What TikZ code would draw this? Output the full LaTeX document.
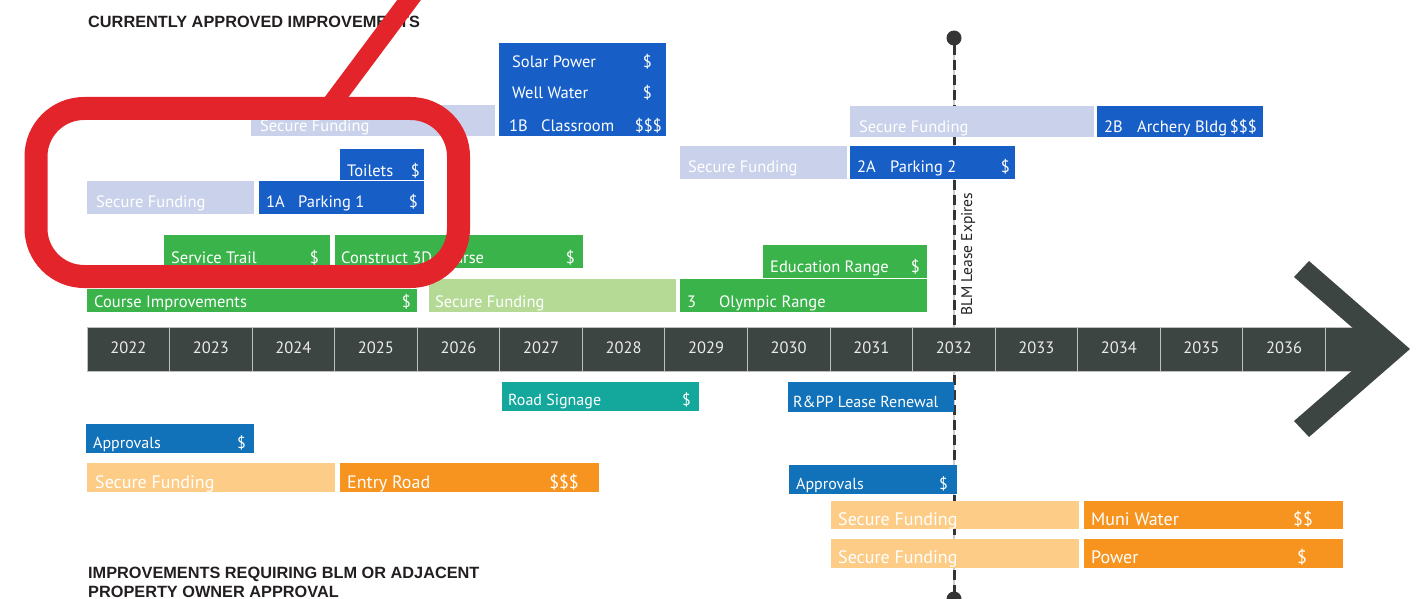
\documentclass[tikz,border=0pt]{standalone}
\usepackage{fontspec}
\setmainfont{PT Sans}
\newfontfamily\headfont{Liberation Sans}
\definecolor{tblue}{HTML}{175FC7}
\definecolor{lav}{HTML}{C9D2EA}
\definecolor{tgreen}{HTML}{3AB44A}
\definecolor{lgreen}{HTML}{B4DA96}
\definecolor{bblue}{HTML}{1172BA}
\definecolor{teal}{HTML}{14A89C}
\definecolor{lorange}{HTML}{FDCC86}
\definecolor{orng}{HTML}{F7941F}
\definecolor{bar}{HTML}{3D4542}
\definecolor{redmark}{HTML}{E3242B}
\definecolor{headtxt}{HTML}{231F20}
\definecolor{dashc}{HTML}{353535}
\tikzset{
  box/.style={anchor=north west, inner sep=0pt, outer sep=0pt, draw=none},
  lbl/.style={anchor=base west, inner sep=0pt, text=white, font=\fontsize{16.5}{18}\selectfont},
  lbr/.style={anchor=base east, inner sep=0pt, text=white, font=\fontsize{16.5}{18}\selectfont},
  lbll/.style={lbl, font=\fontsize{18}{20}\selectfont},
  lbrl/.style={lbr, font=\fontsize{18}{20}\selectfont},
  lblm/.style={lbl, font=\fontsize{16}{18}\selectfont},
  lbrm/.style={lbr, font=\fontsize{16}{18}\selectfont},
  cell/.style={anchor=north west, inner sep=0pt, outer sep=0pt, fill=bar, draw=black!25, line width=0.8pt, minimum height=44pt},
  yr/.style={anchor=base, inner sep=0pt, text=white!92!black, font=\fontsize{16.5}{18}\selectfont},
  head/.style={anchor=base west, inner sep=0pt, text=headtxt, font=\headfont\bfseries\fontsize{16.3}{19}\selectfont, align=left},
}
\newcommand\tlbox[6]{\node[box,fill=#2,minimum width={#5pt-#3pt},minimum height={#6pt-#4pt}] (#1) at (#3,#4) {};}
\begin{document}
\begin{tikzpicture}[x=1pt,y=-1pt]
\useasboundingbox (0,0) rectangle (1424,599);
\clip (0,0) rectangle (1424,599);
\fill[white] (0,0) rectangle (1424,599);

% BLM lease expiry line
\draw[black!20, line width=1.5pt] (954,38) -- (954,600);
\draw[dashc, line width=3pt, dash pattern=on 10pt off 5pt] (954,45) -- (954,600);
\node[circle, fill=dashc, inner sep=0pt, minimum size=15pt] (topdot) at (954,38) {};
\node[circle, fill=dashc, inner sep=0pt, minimum size=15pt] (botdot) at (954,599) {};
\node[rotate=90, anchor=base west, inner sep=0pt, text=headtxt, font=\fontsize{15.5}{17}\selectfont] (blm) at (972,316) {BLM Lease Expires};

% headings
\node[head] (h1) at (88,28) {CURRENTLY APPROVED IMPROVEMENTS};
\node[head] (h2) at (88,578) {IMPROVEMENTS REQUIRING BLM OR ADJACENT};
\node[head] (h3) at (88,597) {PROPERTY OWNER APPROVAL};

% timeline bar
\fill[bar] (1320,327) rectangle (1380,371);
\node[cell, minimum width=30pt] (yend) at (1325.3,327) {};
\foreach \i in {0,...,14} {
  \pgfmathsetmacro\xa{87+\i*82.55}
  \node[cell, minimum width=82.55pt] (y\i) at (\xa,327) {};
  \node[yr] (yt\i) at (\xa+41.3,353) {\the\numexpr2022+\i\relax};
}
\fill[bar] (1294,277) -- (1309,261) -- (1410,349) -- (1309,437) -- (1294,421) -- (1377,349) -- cycle;
\fill[bar] (1340,328) rectangle (1381,370);

% ---- upper boxes ----
\tlbox{sf1}{lav}{251}{105}{495}{136}
\node[lbl] (sf1t) at (260,131.5) {Secure Funding};
\tlbox{cls}{tblue}{499}{43}{666}{136}
\node[lbl] (solar) at (512,68) {Solar Power};
\node[lbr] (solard) at (652,68) {\$};
\node[lbl] (well) at (512,99) {Well Water};
\node[lbr] (welld) at (652,99) {\$};
\node[lbl] (onebn) at (509,131.5) {1B};
\node[lbl] (onebt) at (541,131.5) {Classroom};
\node[lbr] (onebd) at (662,131.5) {\$\$\$};

\tlbox{toil}{tblue}{340}{149}{424}{180}
\node[lbl] (toilt) at (347,176) {Toilets};
\node[lbr] (toild) at (420,176) {\$};
\tlbox{sf2}{lav}{87}{181}{254}{214}
\node[lbl] (sf2t) at (96,207) {Secure Funding};
\tlbox{p1}{tblue}{259}{181}{424}{214}
\node[lbl] (p1n) at (266,207) {1A};
\node[lbl] (p1t) at (298,207) {Parking 1};
\node[lbr] (p1d) at (418,207) {\$};

\tlbox{st}{tgreen}{164}{235}{330}{268}
\node[lbl] (stt) at (171,263) {Service Trail};
\node[lbr] (std) at (319,263) {\$};
\tlbox{c3d}{tgreen}{335}{235}{583}{268}
\node[lbl] (c3dt) at (341,263) {Construct 3D Course};
\node[lbr] (c3dd) at (575,263) {\$};
\tlbox{ci}{tgreen}{87}{289}{417}{312}
\node[lbl] (cit) at (94,307) {Course Improvements};
\node[lbr] (cid) at (411,307) {\$};
\tlbox{sf3}{lgreen}{429}{279}{676}{312}
\node[lbl] (sf3t) at (435,307) {Secure Funding};
\tlbox{ol}{tgreen}{680}{279}{927}{312}
\node[lbl] (oln) at (687,307) {3};
\node[lbl] (olt) at (719,307) {Olympic Range};
\tlbox{ed}{tgreen}{763}{245}{927}{278}
\node[lbl] (edt) at (770,272) {Education Range};
\node[lbr] (edd) at (920,272) {\$};

\tlbox{sf4}{lav}{680}{146}{847}{179}
\node[lbl] (sf4t) at (688,172) {Secure Funding};
\tlbox{p2}{tblue}{850}{146}{1015}{179}
\node[lbl] (p2n) at (857,172) {2A};
\node[lbl] (p2t) at (890,172) {Parking 2};
\node[lbr] (p2d) at (1010,172) {\$};
\tlbox{sf5}{lav}{850}{106}{1094}{137}
\node[lbl] (sf5t) at (859,132) {Secure Funding};
\tlbox{ar}{tblue}{1097}{106}{1263}{137}
\node[lbl] (arn) at (1104,132) {2B};
\node[lbl] (art) at (1137,132) {Archery Bldg};
\node[lbr] (ard) at (1257,132) {\$\$\$};

% ---- lower boxes ----
\tlbox{rs}{teal}{502}{382}{699}{411}
\node[lblm] (rst) at (508,405) {Road Signage};
\node[lbrm] (rsd) at (691,405) {\$};
\tlbox{rpp}{bblue}{788}{382}{954}{412}
\node[lblm] (rppt) at (793,407) {R\&PP Lease Renewal};
\tlbox{ap1}{bblue}{86}{424}{254}{453}
\node[lblm] (ap1t) at (93,448) {Approvals};
\node[lbrm] (ap1d) at (246,448) {\$};
\tlbox{sf6}{lorange}{87}{463}{335}{492}
\node[lbll] (sf6t) at (95,488) {Secure Funding};
\tlbox{er}{orng}{340}{463}{599}{492}
\node[lbll] (ert) at (347,488) {Entry Road};
\node[lbrl] (erd) at (579,488) {\$\$\$};
\tlbox{ap2}{bblue}{789}{465}{957}{494}
\node[lblm] (ap2t) at (796,489) {Approvals};
\node[lbrm] (ap2d) at (948,489) {\$};
\tlbox{sf7}{lorange}{831}{501}{1079}{529}
\node[lbll] (sf7t) at (838,525.5) {Secure Funding};
\tlbox{mw}{orng}{1084}{501}{1343}{529}
\node[lbll] (mwt) at (1091,525.5) {Muni Water};
\node[lbrl] (mwd) at (1313,525.5) {\$\$};
\tlbox{sf8}{lorange}{831}{539}{1079}{568}
\node[lbll] (sf8t) at (838,563) {Secure Funding};
\tlbox{pw}{orng}{1084}{539}{1343}{568}
\node[lbll] (pwt) at (1091,563) {Power};
\node[lbrl] (pwd) at (1307,563) {\$};

% ---- red annotation ----
\draw[redmark, line width=19pt] (421,-16) -- (327,110);
\draw[redmark, line width=23pt, rounded corners=48pt] (36,108.5) rectangle (458.5,276.5);
\end{tikzpicture}
\end{document}
